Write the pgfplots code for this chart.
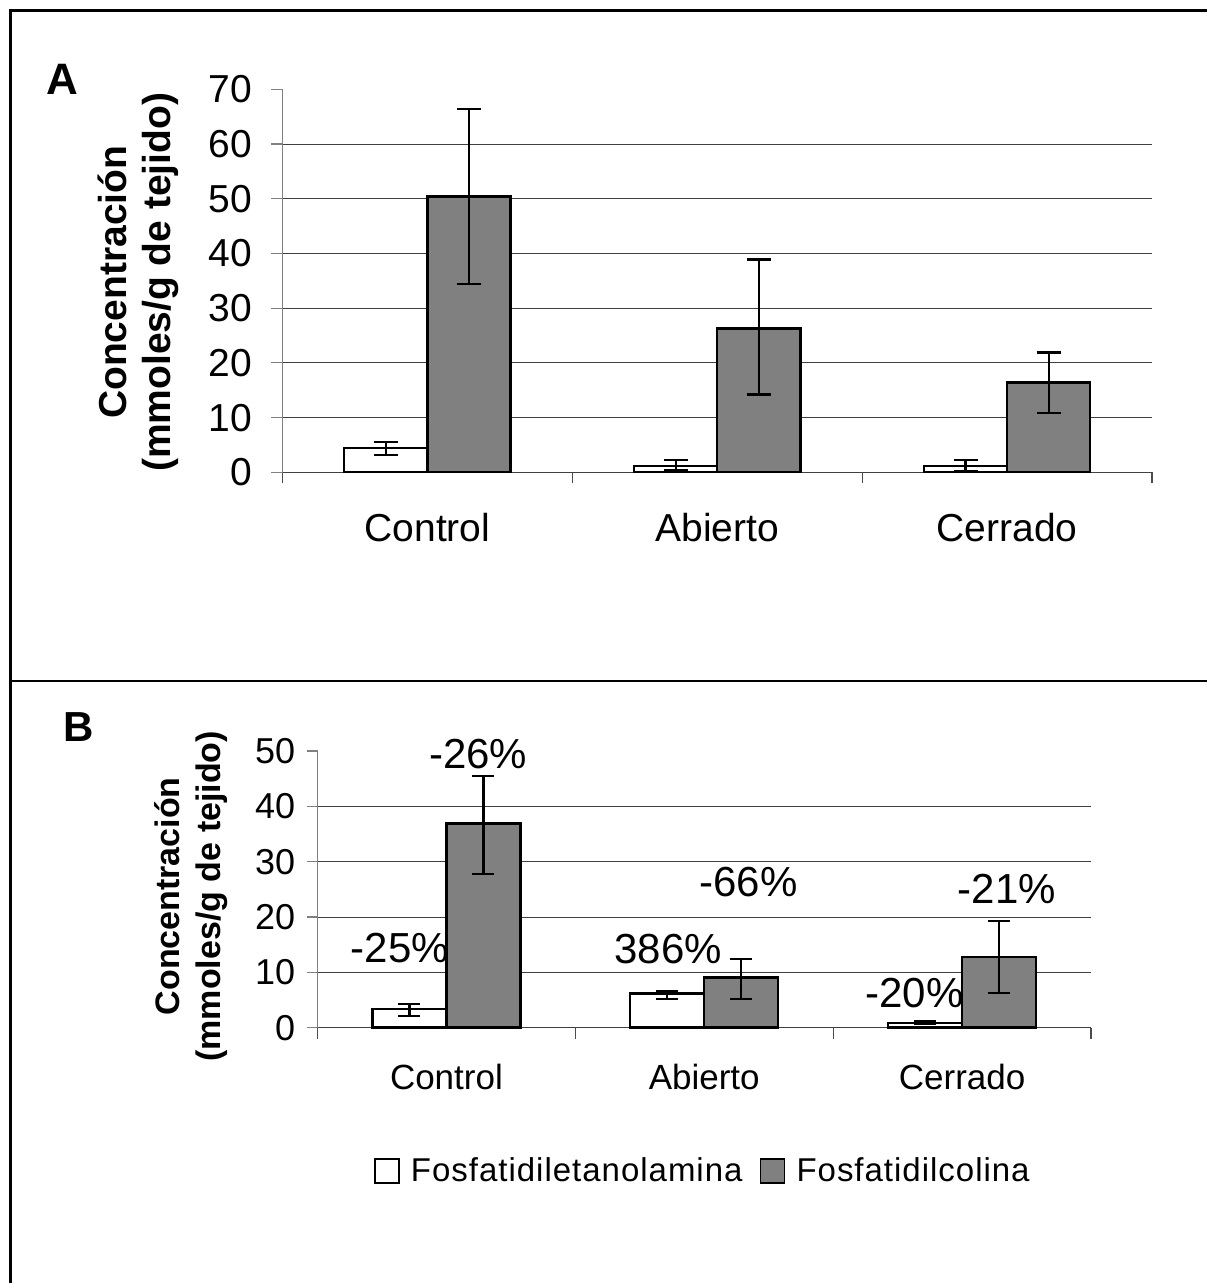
\documentclass[border=0pt]{standalone}
\usepackage{fontspec}
\setmainfont{Liberation Sans}
\newfontfamily\legfont[LetterSpace=3]{Liberation Sans}
\usepackage{pgfplots}
\pgfplotsset{compat=1.18}
\definecolor{barg}{HTML}{808080}

\pgfplotsset{
  mybars/.style={
    scale only axis,
    anchor=south west,
    clip=false,
    axis x line*=bottom, axis y line*=left,
    x axis line style={black!75, line width=0.6pt},
    y axis line style={gray, line width=0.6pt},
    xmin=-0.5, xmax=2.5, ymin=0,
    xtick={0,1,2},
    xticklabels={Control,Abierto,Cerrado},
    major x tick style={draw=none},
    minor xtick={-0.5,0.5,1.5,2.5},
    minor x tick style={draw=black!70, line width=0.6pt},
    minor tick length=5.5pt,
    major tick length=5.5pt,
    tick align=outside,
    ytick style={draw=gray, line width=0.6pt},
    ymajorgrids,
    major grid style={black!75, line width=0.5pt},
    extra y tick style={grid=none},
    /pgf/number format/assume math mode=true,
    ybar,
    bar width=0.287,
    error bars/y dir=both,
    error bars/y explicit,
    error bars/error bar style={line width=1.1pt, black},
  },
  pe/.style={fill=white, draw=black, line width=1.2pt, bar shift=-0.1435},
  pc/.style={fill=barg, draw=black, line width=1.2pt, bar shift=0.1435},
}

\begin{document}
\begin{tikzpicture}
\useasboundingbox (0,0) rectangle (603pt,641.5pt);
\draw[line width=1.5pt] (5pt,0) -- (5pt,636pt) -- (604pt,636pt);
\draw[line width=1.2pt] (5pt,301pt) -- (604pt,301pt);

\node[font=\fontsize{22}{24}\selectfont\bfseries] at (31pt,602pt) {A};
\node[font=\fontsize{21}{24}\selectfont\bfseries] at (39.25pt,278pt) {B};

% Panel A
\begin{axis}[mybars,
  at={(141.25pt,405.35pt)},
  width=434.75pt, height=191.5pt,
  ymax=70,
  ytick={0,10,...,60},
  extra y ticks={70},
  ticklabel style={font=\fontsize{19.5}{22}\selectfont},
  yticklabel style={inner sep=0pt, xshift=-9.7pt},
  xticklabel style={inner sep=0pt, yshift=-15pt},
  error bars/error mark options={rotate=90, mark size=6pt, line width=1.1pt, black},
  every axis y label/.style={at={(axis description cs:-0.166,0.496)}, rotate=90, anchor=center, align=center, font=\bfseries\fontsize{19.5}{22}\selectfont},
  ylabel={Concentración\\(mmoles/g de tejido)},
]
\addplot[pe] coordinates {(0,4.39) += (0,1.1) -= (0,1.2) (1,1.15) += (0,1.05) -= (0,0.8) (2,1.15) += (0,1.05) -= (0,0.9)};
\addplot[pc] coordinates {(0,50.4) += (0,16) -= (0,16) (1,26.3) += (0,12.6) -= (0,12.1) (2,16.4) += (0,5.5) -= (0,5.5)};
\end{axis}

% Panel B
\begin{axis}[mybars,
  at={(158.75pt,127.65pt)},
  width=386.75pt, height=138.35pt,
  ymax=50,
  ytick={0,10,...,40},
  extra y ticks={50},
  yticklabel style={font=\fontsize{18}{20}\selectfont, inner sep=0pt, xshift=-5.5pt},
  xticklabel style={font=\fontsize{17.5}{20}\selectfont, inner sep=0pt, yshift=-12.5pt},
  error bars/error mark options={rotate=90, mark size=5.5pt, line width=1.1pt, black},
  every axis y label/.style={at={(axis description cs:-0.164,0.475)}, rotate=90, anchor=center, align=center, font=\bfseries\fontsize{17}{20.5}\selectfont},
  ylabel={Concentración\\(mmoles/g de tejido)},
  legend style={at={(0.491,-0.518)}, anchor=center, draw=none, fill=none, legend columns=2,
    font=\legfont\fontsize{16.5}{19}\selectfont},
  legend image code/.code={\path[draw=none, fill=none] (-7pt,0pt) -- (16pt,0pt); \draw[#1, line width=0.8pt] (0pt,-6pt) rectangle (12pt,6pt);},
]
\addplot[pe] coordinates {(0,3.33) += (0,1.0) -= (0,1.15) (1,6.2) += (0,0.5) -= (0,1.0) (2,0.9) += (0,0.3) -= (0,0.3)};
\addlegendentry{Fosfatidiletanolamina}
\addplot[pc] coordinates {(0,36.9) += (0,8.6) -= (0,9.1) (1,9.1) += (0,3.3) -= (0,3.9) (2,12.8) += (0,6.5) -= (0,6.6)};
\addlegendentry{Fosfatidilcolina}
\node[font=\fontsize{21}{24}\selectfont] at (axis cs:-0.18,14.4) {-25\%};
\node[font=\fontsize{21}{24}\selectfont] at (axis cs:0.123,49.5) {-26\%};
\node[font=\fontsize{21}{24}\selectfont] at (axis cs:0.86,14.2) {386\%};
\node[font=\fontsize{21}{24}\selectfont] at (axis cs:1.172,26.3) {-66\%};
\node[font=\fontsize{21}{24}\selectfont] at (axis cs:1.816,6.3) {-20\%};
\node[font=\fontsize{21}{24}\selectfont] at (axis cs:2.173,25.1) {-21\%};
\end{axis}
\end{tikzpicture}
\end{document}
